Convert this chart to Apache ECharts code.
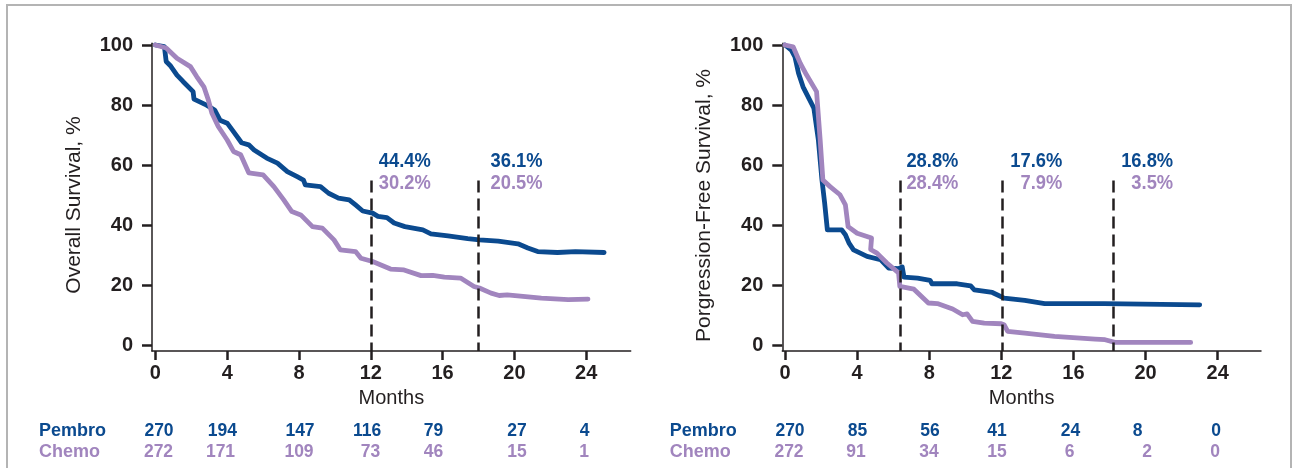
<!DOCTYPE html>
<html>
<head>
<meta charset="utf-8">
<script src="https://cdn.jsdelivr.net/npm/echarts@6/dist/echarts.min.js"></script>
<style>
html,body{margin:0;padding:0;background:#fff;}
#c{width:1292px;height:468px;}
</style>
</head>
<body>
<div id="c"></div>
<script>
// ---------- DATA ----------
const monthTicks = [0, 4, 8, 12, 16, 20, 24];
const pctTicks = [0, 20, 40, 60, 80, 100];

// Overall survival (months, %)
const osPembro = [[0,100],[0.5,99.5],[0.6,94.5],[0.85,93],[1.2,90],[1.55,87.8],[2.1,84.5],[2.15,82],[2.85,80],[3.3,78.4],[3.6,75],[4.0,74],[4.35,71.2],[4.8,67.5],[5.2,66.8],[5.5,65.1],[6.2,62.4],[6.8,60.7],[7.35,57.9],[7.9,56.2],[8.25,55.1],[8.35,53.5],[9.2,52.9],[9.65,50.7],[10.2,49.1],[10.8,48.5],[11.15,46.8],[11.55,44.8],[12.1,44.1],[12.4,43],[12.9,42.6],[13.3,40.8],[13.9,39.6],[14.9,38.5],[15.35,37.2],[16.3,36.5],[17.4,35.6],[18.05,35.2],[19.1,34.8],[20.2,33.9],[20.75,32.5],[21.3,31.3],[22.4,31],[23.4,31.3],[25.0,31]];
const osChemo = [[0,100],[0.6,99],[1.2,95.6],[1.95,92.8],[2.3,89.5],[2.7,86.1],[2.95,81.7],[3.15,77.3],[3.5,72.9],[4.0,68.4],[4.35,64.6],[4.75,63.5],[5.2,57.5],[6.0,56.8],[6.6,52.9],[7.15,48.5],[7.6,44.6],[8.1,43.5],[8.75,39.6],[9.3,39.1],[9.95,35.2],[10.3,31.9],[11.15,31.3],[11.45,29.1],[12.1,28],[13.1,25.5],[13.85,25.2],[14.8,23.3],[15.45,23.4],[16.1,22.8],[17.0,22.5],[17.75,19.7],[18.05,19.2],[18.7,17.5],[19.15,16.7],[19.6,16.9],[21.5,15.8],[23.0,15.3],[24.1,15.5]];

// Progression-free survival (months, %)
const pfsPembro = [[0,100],[0.35,98.3],[0.55,96.1],[0.75,90.6],[1.0,86.1],[1.6,79],[1.85,68.4],[2.05,55.1],[2.2,47.4],[2.35,38.5],[3.15,38.5],[3.35,36.9],[3.55,34.1],[3.8,31.9],[4.55,29.7],[5.3,28.6],[5.75,25.8],[6.3,25.6],[6.5,26.2],[6.6,22.8],[7.35,22.5],[8.05,21.7],[8.15,20.6],[9.55,20.6],[10.3,19.9],[10.5,18.6],[11.5,17.7],[12.15,15.8],[13.3,15.1],[14.4,14],[17.7,14],[23.0,13.6]];
const pfsChemo = [[0,100],[0.45,99.4],[0.85,93.9],[1.2,90],[1.75,84.5],[1.95,68.4],[2.1,55.1],[2.5,52.9],[3.05,50.2],[3.35,46.8],[3.5,39.6],[4.0,37.4],[4.8,35.8],[4.75,32],[5.1,30.8],[5.65,27.5],[6.3,24.2],[6.37,19.7],[7.15,18.8],[7.95,14.2],[8.45,14],[9.3,12.2],[9.85,10.3],[10.1,10.6],[10.4,8.1],[11.05,7.5],[12.0,7.3],[12.15,7.0],[12.35,4.8],[13.3,4.2],[14.95,3.1],[17.2,2.2],[17.75,2.0],[18.3,1.1],[22.5,1.1]];

// Landmark annotations
const osLandmarks = [12, 18];
const osPembroPct = ['44.4%', '36.1%'];
const osChemoPct = ['30.2%', '20.5%'];
const pfsLandmarks = [6.4, 12.05, 18.2];
const pfsPembroPct = ['28.8%', '17.6%', '16.8%'];
const pfsChemoPct = ['28.4%', '7.9%', '3.5%'];

// Number at risk
const armNames = ['Pembro', 'Chemo'];
const osRiskPembro = [270, 194, 147, 116, 79, 27, 4];
const osRiskChemo = [272, 171, 109, 73, 46, 15, 1];
const pfsRiskPembro = [270, 85, 56, 41, 24, 8, 0];
const pfsRiskChemo = [272, 91, 34, 15, 6, 2, 0];

const yTitles = ['Overall Survival, %', 'Porgression-Free Survival, %'];

// ---------- LAYOUT / STYLE ----------
const BLUE = '#0b4a8f';
const PURPLE = '#a185be';
const INK = '#231f20';
const FONT = '"Liberation Sans", Arial, Helvetica, sans-serif';

const osRiskX = [[159, 222.4, 300, 367, 433.6, 517, 584.5], [158.5, 220.5, 299, 370.5, 433.6, 517, 584]];
const pfsRiskX = [[790, 857.5, 930, 997, 1070.5, 1137.5, 1216], [789, 856, 929, 997, 1069.5, 1147, 1215]];

const chart = echarts.init(document.getElementById('c'), null, {renderer: 'canvas'});

function xAxisCfg(grid, min, max) {
  return {
    type: 'value', gridIndex: grid, min: min, max: max,
    axisLine: {show: true, onZero: false, lineStyle: {color: INK, width: 1.5}},
    axisTick: {show: true, customValues: monthTicks, length: 9, lineStyle: {color: INK, width: 2.5}},
    axisLabel: {customValues: monthTicks, fontSize: 20, fontWeight: 'bold', color: INK, margin: 12, fontFamily: FONT},
    splitLine: {show: false},
    name: 'Months', nameLocation: 'middle', nameGap: 37,
    nameTextStyle: {fontSize: 20, color: INK, fontFamily: FONT}
  };
}
function yAxisCfg(grid) {
  return {
    type: 'value', gridIndex: grid, min: -1.76, max: 100.6,
    axisLine: {show: true, onZero: false, lineStyle: {color: INK, width: 1.5}},
    axisTick: {show: true, customValues: pctTicks, length: 10, lineStyle: {color: INK, width: 2.5}},
    axisLabel: {customValues: pctTicks, fontSize: 20, fontWeight: 'bold', color: INK, margin: 19, fontFamily: FONT, padding: [4, 0, 0, 0]},
    splitLine: {show: false}
  };
}
function dashData(landmarks) {
  return landmarks.map(m => [{coord: [m, 54.9]}, {coord: [m, -1.76]}]);
}
function curve(data, xi, color, z, marks) {
  const s = {
    type: 'line', xAxisIndex: xi, yAxisIndex: xi, data: data,
    showSymbol: false, symbol: 'none', z: z, silent: true,
    lineStyle: {color: color, width: 4.8, cap: 'round', join: 'round'},
    itemStyle: {color: color}
  };
  if (marks) {
    s.markLine = {
      silent: true, symbol: 'none', label: {show: false}, animation: false,
      lineStyle: {type: [12, 6], color: INK, width: 2.5},
      data: dashData(marks)
    };
  }
  return s;
}

chart.setOption({
  animation: false,
  backgroundColor: '#ffffff',
  grid: [
    {left: 152, top: 43.2, width: 478.7, height: 307.8},
    {left: 782.3, top: 43.2, width: 478.7, height: 307.8}
  ],
  xAxis: [xAxisCfg(0, -0.19, 26.48), xAxisCfg(1, -0.15, 26.4)],
  yAxis: [yAxisCfg(0), yAxisCfg(1)],
  series: [
    curve(osPembro, 0, BLUE, 3, osLandmarks),
    curve(osChemo, 0, PURPLE, 4, null),
    curve(pfsPembro, 1, BLUE, 3, pfsLandmarks),
    curve(pfsChemo, 1, PURPLE, 4, null)
  ]
});

// ---------- graphic overlays ----------
const g = [];
g.push({type: 'rect', shape: {x: 7, y: 5, width: 1284, height: 600}, style: {fill: 'none', stroke: '#b4b4b4', lineWidth: 2}, silent: true, z: 0});

function txt(text, x, y, color, size, weight, align, extra) {
  const o = Object.assign({
    type: 'text', x: x, y: y, silent: true, z: 10,
    style: {text: text, fill: color, fontSize: size, fontWeight: weight, fontFamily: FONT,
      align: align, verticalAlign: 'middle', textAlign: align, textVerticalAlign: 'middle'}
  }, extra || {});
  return o;
}

// y titles
g.push(txt(yTitles[0], 74, 205, INK, 21, 'normal', 'center', {rotation: Math.PI / 2}));
g.push(txt(yTitles[1], 704, 205.5, INK, 21, 'normal', 'center', {rotation: Math.PI / 2}));

// landmark labels
function landmarkLabels(gridIdx, marks, pemb, chem, offsets) {
  marks.forEach((m, i) => {
    const px = chart.convertToPixel({gridIndex: gridIdx}, [m, 0])[0];
    const right = px + offsets[i];
    g.push(txt(pemb[i], right, 162, BLUE, 19.5, 'bold', 'right', {scaleX: 0.94}));
    g.push(txt(chem[i], right, 183.5, PURPLE, 19.5, 'bold', 'right', {scaleX: 0.94}));
  });
}
landmarkLabels(0, osLandmarks, osPembroPct, osChemoPct, [60, 64]);
landmarkLabels(1, pfsLandmarks, pfsPembroPct, pfsChemoPct, [58, 60, 60]);

// number at risk
const rowY = [431, 452.5];
const rowColor = [BLUE, PURPLE];
[[39, [osRiskPembro, osRiskChemo], osRiskX], [669.7, [pfsRiskPembro, pfsRiskChemo], pfsRiskX]].forEach(([lx, rows, xs]) => {
  rows.forEach((vals, r) => {
    g.push(txt(armNames[r], lx, rowY[r], rowColor[r], 18, 'bold', 'left'));
    vals.forEach((v, k) => g.push(txt(String(v), xs[r][k], rowY[r], rowColor[r], 17.5, 'bold', 'center')));
  });
});

chart.setOption({graphic: {elements: g}});
</script>
</body>
</html>
